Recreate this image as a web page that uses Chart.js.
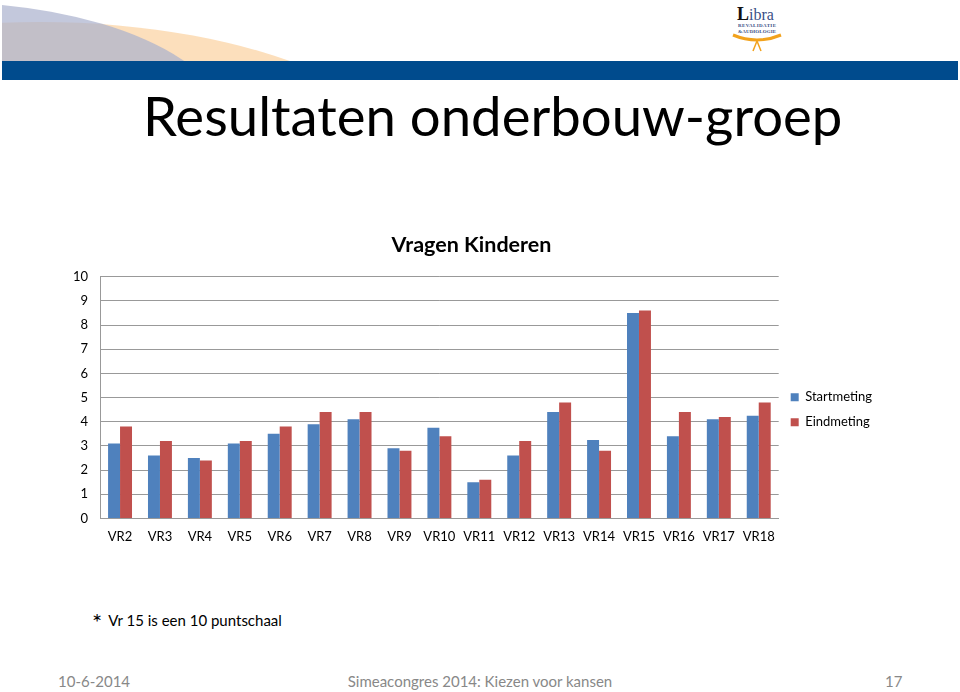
<!DOCTYPE html>
<html>
<head>
    <title>Resultaten onderbouw-groep</title>
    <script src="https://cdn.jsdelivr.net/npm/chart.js"></script>
    <style>
        body { margin: 0; width: 960px; height: 692px; position: relative; overflow: hidden; background: #fff; font-family: Lato, 'Open Sans', sans-serif; }
        #deco { position: absolute; left: 0; top: 0; }
        #titel { position: absolute; left: 143px; top: 82px; font-size: 54.5px; color: #000; white-space: nowrap; }
        #chartBox { position: absolute; left: 40px; top: 225px; width: 860px; height: 331px; }
        #noot { position: absolute; left: 92px; top: 607px; font-size: 15px; }
        #noot b { font-size: 24px; font-weight: normal; vertical-align: -5px; margin-right: 6px; }
        .voet { position: absolute; top: 672px; font-size: 15px; color: #888; }
    </style>
</head>
<body>
    <svg id="deco" width="960" height="90">
        <defs><clipPath id="c"><rect x="2" y="0" width="956" height="61"/></clipPath></defs>
        <g clip-path="url(#c)">
            <ellipse cx="40" cy="200" rx="400" ry="178" fill="#fbd9b0" opacity="0.85"/>
            <ellipse cx="-60" cy="130" rx="290" ry="128" fill="#a9b1cd" opacity="0.7"/>
        </g>
        <rect x="2" y="61" width="956" height="19" fill="#004b8d"/>
        <text x="737" y="20" font-family="Liberation Serif, serif" font-size="18" font-weight="bold" fill="#111">L<tspan font-size="16" font-weight="normal" fill="#3a4f86">ibra</tspan></text>
        <text x="738" y="27" font-family="Liberation Serif, serif" font-size="5" font-weight="bold" fill="#3a4f86" textLength="38">REVALIDATIE</text>
        <text x="738" y="33" font-family="Liberation Serif, serif" font-size="5" font-weight="bold" fill="#3a4f86" textLength="38">&amp;AUDIOLOGIE</text>
        <path d="M733 35 Q757 45 781 35" stroke="#f2a21c" stroke-width="3" fill="none"/>
        <path d="M753 51 L757 41 L761 51" stroke="#f2a21c" stroke-width="1.5" fill="none"/>
    </svg>
    <div id="titel">Resultaten onderbouw-groep</div>
    <div id="chartBox"><canvas id="vragenChart"></canvas></div>
    <div id="noot"><b>*</b>Vr 15 is een 10 puntschaal</div>
    <div class="voet" style="left:58px">10-6-2014</div>
    <div class="voet" style="left:0;width:960px;text-align:center">Simeacongres 2014: Kiezen voor kansen</div>
    <div class="voet" style="left:885px">17</div>

    <script>
        const vragen = ['VR2', 'VR3', 'VR4', 'VR5', 'VR6', 'VR7', 'VR8', 'VR9', 'VR10', 'VR11', 'VR12', 'VR13', 'VR14', 'VR15', 'VR16', 'VR17', 'VR18'];
        const startmeting = [3.1, 2.6, 2.5, 3.1, 3.5, 3.9, 4.1, 2.9, 3.75, 1.5, 2.6, 4.4, 3.25, 8.5, 3.4, 4.1, 4.25];
        const eindmeting = [3.8, 3.2, 2.4, 3.2, 3.8, 4.4, 4.4, 2.8, 3.4, 1.6, 3.2, 4.8, 2.8, 8.6, 4.4, 4.2, 4.8];
        const yTicks = [0, 1, 2, 3, 4, 5, 6, 7, 8, 9, 10];

        const font = "Lato, 'Open Sans', sans-serif";
        const ctx = document.getElementById('vragenChart').getContext('2d');
        const vragenChart = new Chart(ctx, {
            type: 'bar',
            data: {
                labels: vragen,
                datasets: [{
                    label: 'Startmeting',
                    data: startmeting,
                    backgroundColor: '#4f81bd'
                }, {
                    label: 'Eindmeting',
                    data: eindmeting,
                    backgroundColor: '#c0504d'
                }]
            },
            options: {
                responsive: true,
                maintainAspectRatio: false,
                animation: false,
                datasets: { bar: { barPercentage: 1, categoryPercentage: 0.6 } },
                layout: { padding: { left: 21, right: 18, bottom: 0 } },
                plugins: {
                    title: {
                        display: true,
                        text: 'Vragen Kinderen',
                        color: '#000',
                        font: { family: font, size: 21.5, weight: 'bold' },
                        padding: { top: 7, bottom: 19 }
                    },
                    legend: {
                        position: 'right',
                        title: { display: true, text: ' ', padding: 12, font: { size: 12 } },
                        labels: {
                            boxWidth: 8,
                            boxHeight: 8,
                            color: '#000',
                            padding: 12,
                            font: { family: font, size: 13 }
                        }
                    },
                    tooltip: { enabled: false }
                },
                scales: {
                    x: {
                        grid: { display: false, drawTicks: false },
                        border: { color: '#999' },
                        ticks: { color: '#000', font: { family: font, size: 13 }, padding: 11 }
                    },
                    y: {
                        min: 0,
                        max: 10,
                        afterBuildTicks: axis => { axis.ticks = yTicks.map(v => ({ value: v })); },
                        grid: { color: '#999', drawTicks: false },
                        border: { color: '#999' },
                        ticks: { color: '#000', font: { family: font, size: 13 }, padding: 12 }
                    }
                }
            }
        });
    </script>
</body>
</html>
